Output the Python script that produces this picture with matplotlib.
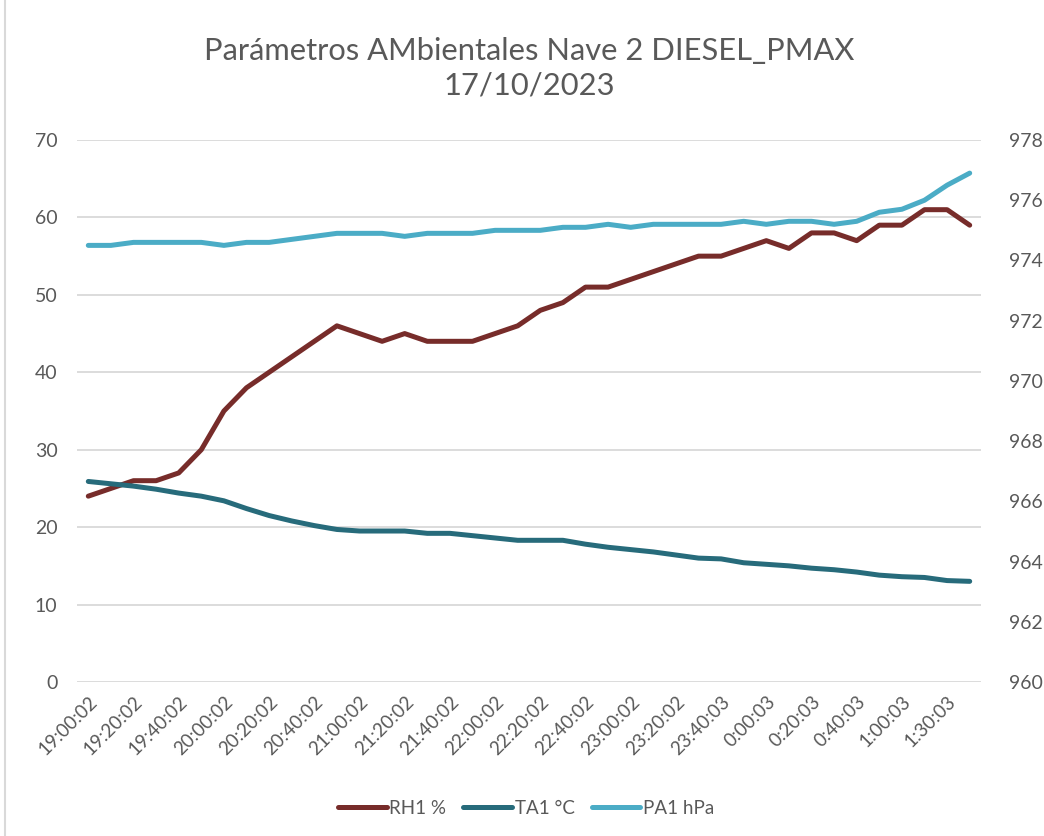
import matplotlib
matplotlib.use("Agg")
import matplotlib.pyplot as plt
from matplotlib.lines import Line2D

plt.rcParams['font.family'] = ['Lato', 'DejaVu Sans']

times = ["19:00:02", "19:10:02", "19:20:02", "19:30:02", "19:40:02", "19:50:02",
         "20:00:02", "20:10:02", "20:20:02", "20:30:02", "20:40:02", "20:50:02",
         "21:00:02", "21:10:02", "21:20:02", "21:30:02", "21:40:02", "21:50:02",
         "22:00:02", "22:10:02", "22:20:02", "22:30:02", "22:40:02", "22:50:02",
         "23:00:02", "23:10:02", "23:20:02", "23:30:03", "23:40:03", "23:50:03",
         "0:00:03", "0:10:03", "0:20:03", "0:30:03", "0:40:03", "0:50:03",
         "1:00:03", "1:10:03", "1:30:03", "1:40:03"]

rh1 = [24, 25, 26, 26, 27, 30, 35, 38, 40, 42, 44, 46, 45, 44, 45, 44, 44, 44, 45, 46,
       48, 49, 51, 51, 52, 53, 54, 55, 55, 56, 57, 56, 58, 58, 57, 59, 59, 61, 61, 59]

ta1 = [25.9, 25.6, 25.3, 24.9, 24.4, 24.0, 23.4, 22.4, 21.5, 20.8, 20.2, 19.7, 19.5,
       19.5, 19.5, 19.2, 19.2, 18.9, 18.6, 18.3, 18.3, 18.3, 17.8, 17.4, 17.1, 16.8,
       16.4, 16.0, 15.9, 15.4, 15.2, 15.0, 14.7, 14.5, 14.2, 13.8, 13.6, 13.5, 13.1, 13.0]

pa1 = [974.5, 974.5, 974.6, 974.6, 974.6, 974.6, 974.5, 974.6, 974.6, 974.7, 974.8,
       974.9, 974.9, 974.9, 974.8, 974.9, 974.9, 974.9, 975.0, 975.0, 975.0, 975.1,
       975.1, 975.2, 975.1, 975.2, 975.2, 975.2, 975.2, 975.3, 975.2, 975.3, 975.3,
       975.2, 975.3, 975.6, 975.7, 976.0, 976.5, 976.9]

title = "Parámetros AMbientales Nave 2 DIESEL_PMAX\n17/10/2023"
series_names = ["RH1 %", "TA1 °C", "PA1 hPa"]
colors = ["#772C2A", "#276B7B", "#4BACC6"]
text_color = "#595959"
grid_color = "#D9D9D9"

W, H = 1044, 836
fig = plt.figure(figsize=(W / 100, H / 100), dpi=100)
ax = fig.add_axes([77 / W, 1 - 682 / H, (981 - 77) / W, (682 - 140) / H])
ax2 = ax.twinx()

x = list(range(len(times)))
lw = 3.6
ax.plot(x, rh1, color=colors[0], lw=lw, solid_joinstyle='round', solid_capstyle='round', zorder=3)
ax.plot(x, ta1, color=colors[1], lw=lw, solid_joinstyle='round', solid_capstyle='round', zorder=3)
ax2.plot(x, pa1, color=colors[2], lw=lw, solid_joinstyle='round', solid_capstyle='round', zorder=3)

ax.set_xlim(-0.5, len(times) - 0.5)
ax.set_ylim(0, 70)
ax.set_yticks(range(0, 71, 10))
ax2.set_ylim(960, 978)
ax2.set_yticks(range(960, 979, 2))

ax.set_xticks(x[::2])
ax.set_xticklabels(times[::2], rotation=45, ha='right', rotation_mode='anchor')

ax.grid(axis='y', color=grid_color, lw=1.3, zorder=0)
ax.set_axisbelow(True)
for a in (ax, ax2):
    for s in a.spines.values():
        s.set_visible(False)
    a.tick_params(length=0, colors=text_color, labelsize=14)
ax.tick_params(axis='y', pad=14)
ax2.tick_params(axis='y', pad=20)
ax.tick_params(axis='x', pad=8, labelsize=13.5)

fig.text(0.507, 1 - 68 / H, title, ha='center', va='center', fontsize=22.2,
         color=text_color, linespacing=1.3)

handles = [Line2D([0], [0], color=c, lw=lw, solid_capstyle='round') for c in colors]
fig.legend(handles, series_names, loc='center', bbox_to_anchor=(0.504, 1 - 808 / H),
           ncol=3, frameon=False, fontsize=13.5, labelcolor=text_color,
           handlelength=2.6, handletextpad=0.15, columnspacing=0.9)

fig.add_artist(Line2D([5 / W, 5 / W], [0, 1], color=grid_color, lw=1.5, transform=fig.transFigure))

fig.savefig("out.png", dpi=100, facecolor="white")
